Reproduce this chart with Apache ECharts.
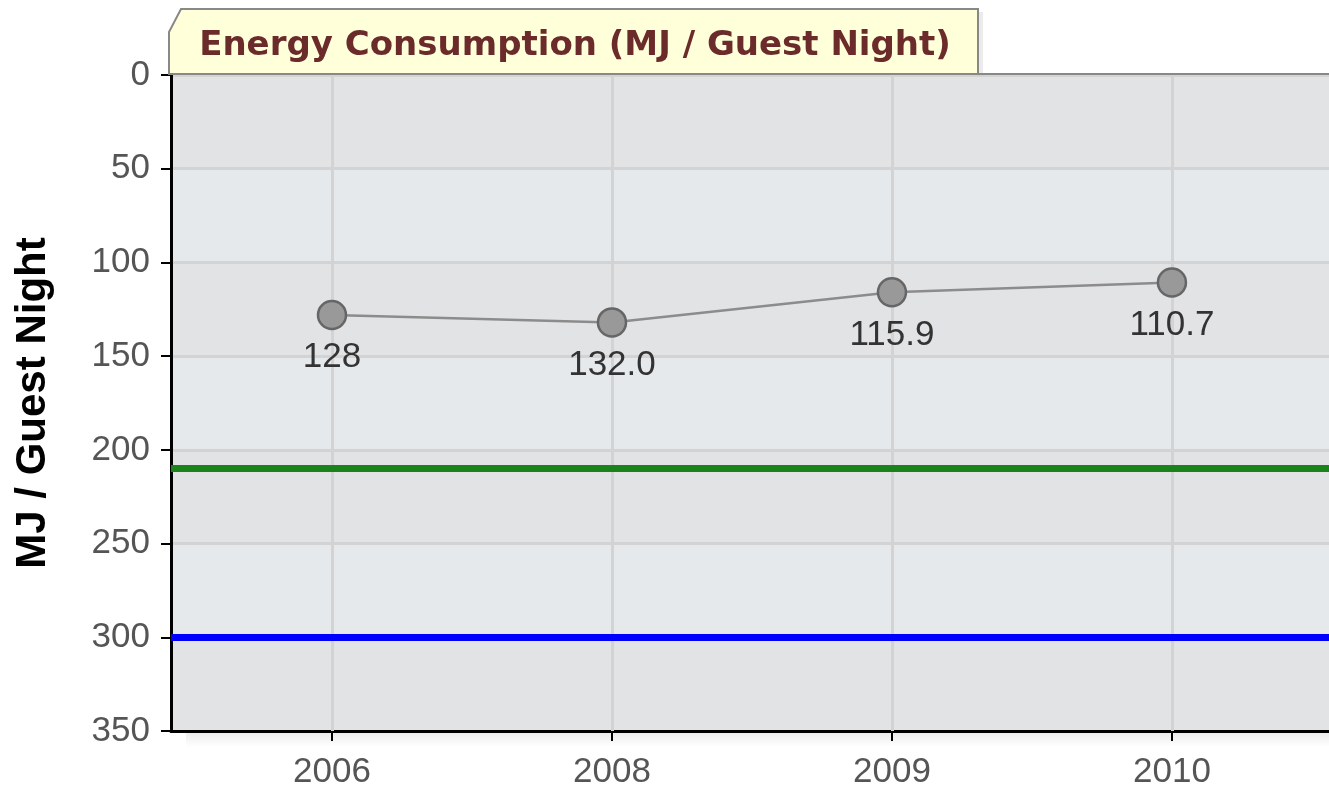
<!DOCTYPE html>
<html>
<head>
<meta charset="utf-8">
<script src="https://cdn.jsdelivr.net/npm/echarts@6/dist/echarts.min.js"></script>
<style>
  html, body { margin: 0; padding: 0; background: #fff; }
  #chart { width: 1329px; height: 792px; }
</style>
</head>
<body>
<div id="chart"></div>
<script>
// chart data
const years = ['2006', '2008', '2009', '2010'];
const energy = [128, 132.0, 115.9, 110.7];
const energyLabels = ['128', '132.0', '115.9', '110.7'];
const greenTarget = 210;
const blueTarget = 300;
const yTicks = [0, 50, 100, 150, 200, 250, 300, 350];

window.onload = function () {
    const myChart = echarts.init(document.getElementById('chart'));

    const idx = years.map((y, i) => i);
    const points = energy.map((v, i) => [i, v]);

    const option = {
        animation: false,
        grid: { left: 171, top: 75, right: 0, bottom: 61 },
        graphic: [{
            // soft shadow under the x axis
            type: 'rect',
            z: 0,
            shape: { x: 186, y: 733, width: 1143, height: 14 },
            style: {
                fill: new echarts.graphic.LinearGradient(0, 0, 0, 1, [
                    { offset: 0, color: 'rgba(0,0,0,0.07)' },
                    { offset: 1, color: 'rgba(0,0,0,0)' }
                ])
            }
        }, {
            type: 'rect',
            z: 9,
            shape: { x: 978, y: 12, width: 5, height: 62 },
            style: { fill: 'rgba(0,0,0,0.08)' }
        }, {
            type: 'polygon',
            z: 10,
            shape: { points: [[169, 74], [169, 32], [181, 9], [978, 9], [978, 74]] },
            style: { fill: '#ffffd9', stroke: '#888', lineWidth: 2 }
        }, {
            type: 'text',
            z: 11,
            x: 575,
            y: 46,
            style: {
                text: 'Energy Consumption (MJ / Guest Night)',
                fill: '#6b2b2b',
                font: 'bold 34px "DejaVu Sans"',
                align: 'center',
                verticalAlign: 'middle'
            }
        }, {
            type: 'line',
            z: 9,
            shape: { x1: 171, y1: 74, x2: 1329, y2: 74 },
            style: { stroke: '#888', lineWidth: 2 }
        }],
        xAxis: {
            type: 'value',
            min: -0.575,
            max: 3.561,
            axisLine: { show: true, onZero: false, lineStyle: { color: '#000', width: 3 } },
            axisTick: { show: true, customValues: idx, length: 10, lineStyle: { color: '#000', width: 2 } },
            axisLabel: {
                customValues: idx,
                formatter: v => years[Math.round(v)],
                color: '#555',
                fontSize: 35,
                fontFamily: 'Liberation Sans',
                margin: 24
            },
            splitLine: { show: false }
        },
        yAxis: {
            type: 'value',
            inverse: true,
            min: yTicks[0],
            max: yTicks[yTicks.length - 1],
            interval: 50,
            name: 'MJ / Guest Night',
            nameLocation: 'middle',
            nameGap: 117,
            nameTextStyle: { color: '#000', fontSize: 42, fontWeight: 'bold', fontFamily: 'Liberation Sans' },
            axisLine: { show: true, onZero: false, lineStyle: { color: '#000', width: 3 } },
            axisTick: { show: true, length: 10, lineStyle: { color: '#000', width: 2 } },
            axisLabel: { color: '#555', fontSize: 35, fontFamily: 'Liberation Sans', margin: 21 },
            splitLine: { show: true, lineStyle: { color: '#d3d3d3', width: 3 } },
            splitArea: { show: true, areaStyle: { color: ['#e2e3e5', '#e6e9ec'] } }
        },
        series: [{
            type: 'line',
            data: points,
            symbol: 'circle',
            symbolSize: 28,
            lineStyle: { color: '#8c8c8c', width: 2.5 },
            itemStyle: { color: '#999', borderColor: '#666', borderWidth: 2.5 },
            label: {
                show: true,
                position: 'bottom',
                distance: 10,
                formatter: p => energyLabels[p.dataIndex],
                color: '#333',
                fontSize: 35,
                fontFamily: 'Liberation Sans'
            },
            markLine: {
                silent: true,
                symbol: 'none',
                label: { show: false },
                z: 1,
                data: [
                    ...idx.map(i => ({ xAxis: i, lineStyle: { color: '#d3d3d3', width: 3, type: 'solid' } })),
                    { yAxis: greenTarget, lineStyle: { color: '#1a831a', width: 7, type: 'solid' } },
                    { yAxis: blueTarget, lineStyle: { color: '#0000ff', width: 7, type: 'solid' } }
                ]
            }
        }]
    };

    myChart.setOption(option);
};
</script>
</body>
</html>
